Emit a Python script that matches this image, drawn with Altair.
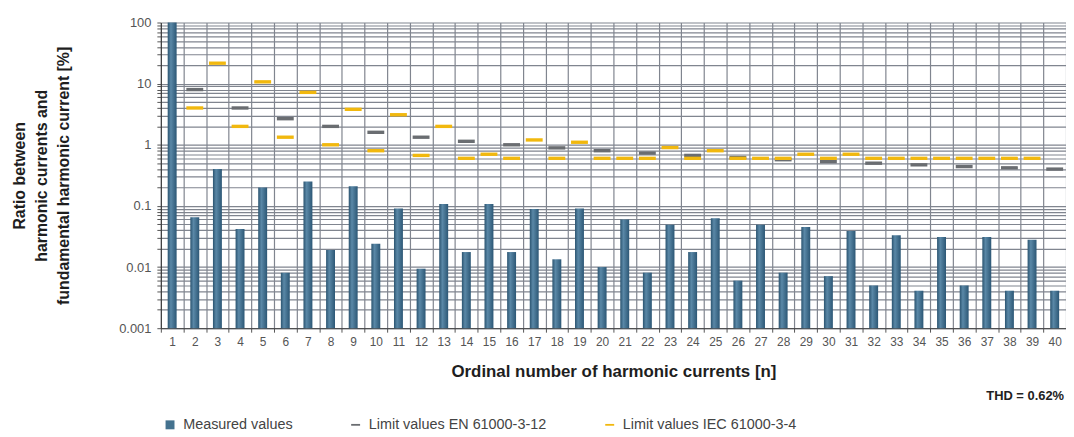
import altair as alt
import pandas as pd

# ---------------- data ----------------
harmonics = list(range(1, 41))
measured = [100, 0.065, 0.40, 0.042, 0.20, 0.0081, 0.25, 0.019, 0.21, 0.024,
            0.091, 0.0094, 0.107, 0.0176, 0.107, 0.0176, 0.089, 0.0134, 0.091, 0.010,
            0.060, 0.0081, 0.049, 0.0176, 0.063, 0.0060, 0.049, 0.0081, 0.045, 0.0071,
            0.039, 0.0050, 0.033, 0.0041, 0.031, 0.0050, 0.031, 0.0041, 0.028, 0.0041]

en_harmonics = list(range(2, 41, 2))
en_limits = [8, 4, 2.67, 2, 1.6, 1.33, 1.14, 1.0, 0.89, 0.8,
             0.73, 0.67, 0.62, 0.57, 0.53, 0.5, 0.47, 0.44, 0.42, 0.4]

iec_harmonics = list(range(2, 40))
iec_limits = [4, 21.6, 2, 10.7, 1.33, 7.2, 1.0, 3.8, 0.8, 3.1,
              0.67, 2.0, 0.6, 0.7, 0.6, 1.2, 0.6, 1.1, 0.6, 0.6,
              0.6, 0.9, 0.6, 0.8, 0.6, 0.6, 0.6, 0.7, 0.6, 0.7,
              0.6, 0.6, 0.6, 0.6, 0.6, 0.6, 0.6, 0.6]

series_names = ["Measured values", "Limit values EN 61000-3-12", "Limit values IEC 61000-3-4"]
series_colors = ["#44728f", "#6a6d71", "#f1b80e"]
thd_text = "THD = 0.62%"
y_decades = [0.001, 0.01, 0.1, 1, 10, 100]

x_title = "Ordinal number of harmonic currents [n]"
y_title = ["Ratio between", "harmonic currents and", "fundamental harmonic current [%]"]

# ---------------- tables ----------------
bars_df = pd.DataFrame({"n": harmonics, "value": measured})
limits_df = pd.concat([
    pd.DataFrame({"n": en_harmonics, "value": en_limits, "series": series_names[1]}),
    pd.DataFrame({"n": iec_harmonics, "value": iec_limits, "series": series_names[2]}),
], ignore_index=True)
limits_df["order"] = range(len(limits_df))

y_ticks = [round(k * d, 6) for d in y_decades[:-1] for k in range(1, 10)] + [y_decades[-1]]

FONT = "Liberation Sans"
dash_path = "M-1,-0.2H1V0.2H-1Z"
GRID = "#80858f"

x_enc = alt.X(
    "n:O",
    scale=alt.Scale(domain=harmonics, paddingInner=0, paddingOuter=0),
    axis=alt.Axis(
        title=x_title, labelAngle=0, tickBand="extent", grid=True,
        gridColor=GRID, gridWidth=1.2, tickSize=4, tickColor="#555",
        domainColor="#444", labelFontSize=12, labelColor="#555", labelPadding=4,
        titleFontSize=17, titleFontWeight="bold", titleColor="#1e1e1e",
        titlePadding=17,
    ),
)

y_scale = alt.Scale(type="log", domain=[y_decades[0], y_decades[-1]], nice=False)
y_axis = alt.Axis(
    title=y_title, values=y_ticks,
    labelExpr="abs(log(datum.value)/LN10 - round(log(datum.value)/LN10)) < 1e-6 ? format(datum.value, '~g') : ''",
    grid=True, gridColor=GRID, gridWidth=1.2, tickSize=4, tickColor="#555",
    domainColor="#333", labelFontSize=13, labelColor="#555", labelPadding=6,
    titleFontSize=16, titleFontWeight="bold", titleColor="#1e1e1e",
    titleLineHeight=22.5, titlePadding=47,
)

bar_fill = alt.Gradient(
    gradient="linear", x1=0, x2=1, y1=0, y2=0,
    stops=[alt.GradientStop(offset=0, color="#2b5470"),
           alt.GradientStop(offset=0.35, color="#5a88a7"),
           alt.GradientStop(offset=1, color="#2c5775")],
)

bars = alt.Chart(bars_df).mark_bar(size=9, fill=bar_fill).encode(
    x=x_enc,
    y=alt.Y("value:Q", scale=y_scale, axis=y_axis),
    y2=alt.datum(y_decades[0]),
)

legend = alt.Legend(
    title=None, orient="none", legendX=2, legendY=398, direction="horizontal",
    columns=3, columnPadding=56, labelFontSize=14.5, labelColor="#444",
    labelFont=FONT, symbolSize=81, labelOffset=6, symbolStrokeWidth=0,
    labelLimit=400,
)

limits = alt.Chart(limits_df).mark_point(
    filled=True, size=289, opacity=1, strokeWidth=0
).encode(
    x=alt.X("n:O", scale=alt.Scale(domain=harmonics, paddingInner=0, paddingOuter=0)),
    y=alt.Y("value:Q", scale=y_scale),
    color=alt.Color("series:N", scale=alt.Scale(domain=series_names, range=series_colors), legend=legend),
    shape=alt.Shape("series:N", scale=alt.Scale(domain=series_names, range=["square", dash_path, dash_path]), legend=legend),
    order=alt.Order("order:Q"),
)

thd = alt.Chart(pd.DataFrame({"t": [thd_text]})).mark_text(
    align="right", baseline="middle", fontSize=13, fontWeight="bold", font=FONT, color="#222"
).encode(x=alt.value(910), y=alt.value(376), text="t:N")

chart = alt.layer(bars, limits, thd).properties(
    width=912, height=308,
    autosize=alt.AutoSizeParams(type="none"),
    padding={"left": 154, "top": 13, "right": 0, "bottom": 106},
).configure_view(stroke=None).configure_axis(labelFont=FONT, titleFont=FONT)

chart.save("out.html", embed_options={"renderer": "svg", "actions": False})
